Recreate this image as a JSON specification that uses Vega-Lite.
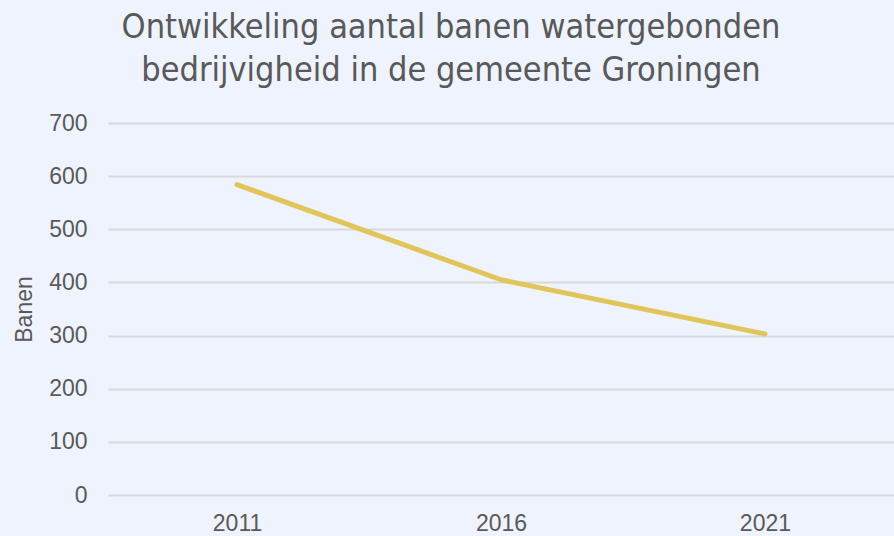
{
  "$schema": "https://vega.github.io/schema/vega-lite/v6.json",
  "autosize": "none",
  "width": 786,
  "height": 372,
  "padding": {"left": 108, "top": 123, "right": 0, "bottom": 41},
  "background": "#EEF3FD",
  "title": {
    "text": ["Ontwikkeling aantal banen watergebonden", "bedrijvigheid in de gemeente Groningen"],
    "font": "DejaVu Sans Condensed, Roboto Condensed, Roboto, sans-serif",
    "fontSize": 34,
    "fontWeight": 300,
    "color": "#595959",
    "lineHeight": 43,
    "anchor": "middle",
    "dx": -50,
    "offset": 24
  },
  "data": {
    "values": [
      {"jaar": "2011", "banen": 584},
      {"jaar": "2016", "banen": 405},
      {"jaar": "2021", "banen": 303}
    ]
  },
  "mark": {"type": "line", "color": "#E2C55A", "strokeWidth": 5, "strokeCap": "round", "strokeJoin": "round"},
  "encoding": {
    "x": {
      "field": "jaar",
      "type": "ordinal",
      "scale": {"type": "point", "padding": 0.489},
      "axis": {
        "title": null,
        "labelAngle": 0,
        "labelFont": "Liberation Sans",
        "labelFontSize": 23,
        "labelColor": "#595959",
        "labelPadding": 17,
        "ticks": false,
        "domain": false,
        "grid": false
      }
    },
    "y": {
      "field": "banen",
      "type": "quantitative",
      "scale": {"domain": [0, 700]},
      "axis": {
        "title": "Banen",
        "titleFont": "Liberation Sans",
        "titleFontSize": 23,
        "titleFontWeight": "normal",
        "titleColor": "#595959",
        "titlePadding": 12,
        "values": [0, 100, 200, 300, 400, 500, 600, 700],
        "labelFont": "Liberation Sans",
        "labelFontSize": 23,
        "labelColor": "#595959",
        "labelPadding": 21,
        "ticks": false,
        "domain": false,
        "grid": true,
        "gridColor": "#D9D9D9",
        "gridWidth": 2
      }
    }
  },
  "config": {"view": {"stroke": null}}
}
